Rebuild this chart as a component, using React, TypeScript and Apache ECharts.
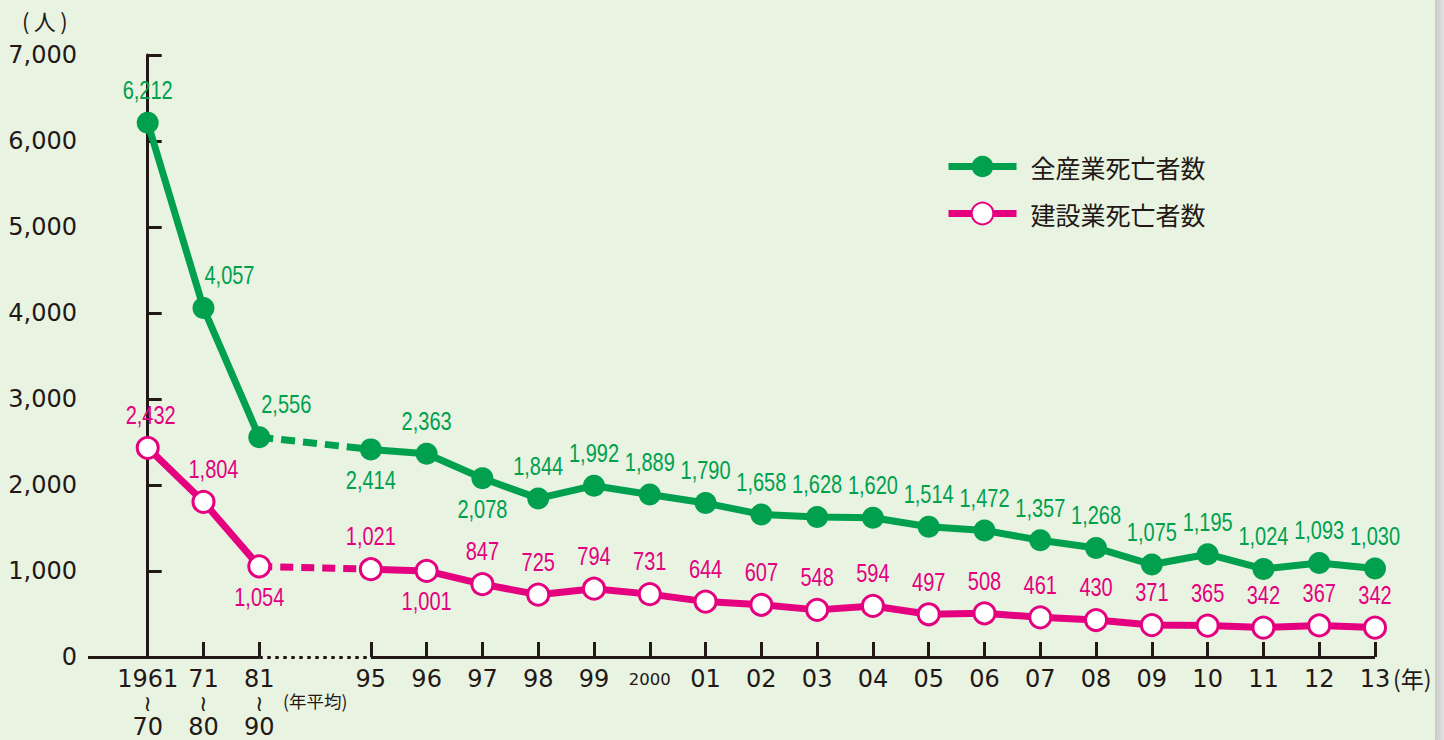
import React, { useEffect, useRef } from "react";
import * as echarts from "echarts";

// ---- data ----
const categories: string[] = [
  "1961\n≀\n70", "71\n≀\n80", "81\n≀\n90", "",
  "95", "96", "97", "98", "99", "2000",
  "01", "02", "03", "04", "05", "06", "07", "08", "09", "10", "11", "12", "13",
];
const allIndustry: (number | null)[] = [
  6212, 4057, 2556, null,
  2414, 2363, 2078, 1844, 1992, 1889,
  1790, 1658, 1628, 1620, 1514, 1472, 1357, 1268, 1075, 1195, 1024, 1093, 1030,
];
const construction: (number | null)[] = [
  2432, 1804, 1054, null,
  1021, 1001, 847, 725, 794, 731,
  644, 607, 548, 594, 497, 508, 461, 430, 371, 365, 342, 367, 342,
];
const seriesNames = ["全産業死亡者数", "建設業死亡者数"];
const yTicks = [0, 1000, 2000, 3000, 4000, 5000, 6000, 7000];

// label placement (style, not data)
const greenBelow = [4, 6];
const pinkBelow = [2, 5];
const greenShift: Record<number, number> = { 1: 26, 2: 27 };
const pinkShift: Record<number, number> = { 0: 3, 1: 10 };

const GREEN = "#00a04e";
const PINK = "#e4007f";
const INK = "#231815";
const BG = "#e8f3e1";
const NUM_FONT = "'Liberation Sans', Arial, sans-serif";
const AX_FONT = "'DejaVu Sans', sans-serif";
const CJK = "'Noto Sans CJK JP', 'Noto Sans', sans-serif";

const tickIdx = categories.map((c, i) => i).filter((i) => categories[i] !== "");
const firstGap = categories.indexOf("");

function buildData(vals: (number | null)[]) {
  return vals.map((v, i) => (v == null ? [i, "-"] : [i, v]));
}

function labelSeries(
  name: string,
  vals: (number | null)[],
  color: string,
  below: number[],
  shift: Record<number, number>
) {
  const data = vals
    .map((v, i) => (v == null ? null : [i, v]))
    .filter((d) => d !== null);
  return {
    name,
    type: "custom",
    silent: true,
    z: 6,
    encode: { x: 0, y: 1 },
    data,
    renderItem: (params: any, api: any) => {
      const i = api.value(0);
      const v = api.value(1);
      const pt = api.coord([i, v]);
      const isBelow = below.includes(i);
      return {
        type: "text",
        x: pt[0] + (shift[i] || 0),
        y: pt[1] + (isBelow ? 31 : -32),
        scaleX: 0.8,
        style: {
          text: Number(v).toLocaleString("en-US"),
          fill: color,
          fontFamily: NUM_FONT,
          fontSize: 25,
          align: "center",
          verticalAlign: "middle",
          textAlign: "center",
          textVerticalAlign: "middle",
        },
      };
    },
  };
}

export default function App() {
  const ref = useRef<HTMLDivElement>(null);
  useEffect(() => {
    if (!ref.current) return;
    const chart = echarts.init(ref.current, undefined, { renderer: "svg" });
    const xMin = -1.07;
    const xMax = categories.length - 1;
    chart.setOption({
      animation: false,
      backgroundColor: BG,
      grid: { left: 88, right: 69, top: 55, bottom: 83 },
      legend: {
        orient: "vertical",
        left: 945,
        top: 154,
        padding: 0,
        itemWidth: 68,
        itemHeight: 27,
        itemGap: 22,
        data: seriesNames,
        lineStyle: { width: 7 },
        textStyle: { fontSize: 25, color: INK, fontFamily: CJK, padding: [0, 0, 0, 9] },
      },
      xAxis: {
        type: "value",
        min: xMin,
        max: xMax,
        axisLine: { show: false },
        splitLine: { show: false },
        axisTick: {
          show: true,
          inside: true,
          length: 15,
          customValues: tickIdx,
          lineStyle: { color: INK, width: 3 },
        },
        axisLabel: {
          customValues: tickIdx,
          margin: 10,
          formatter: (v: number) => {
            const s = categories[Math.round(v)] || "";
            if (s === "2000") return "{s|2000}";
            return s
              .split("\n")
              .map((t) => (t === "≀" ? "{w|≀}" : "{n|" + t + "}"))
              .join("\n");
          },
          rich: {
            n: { fontFamily: AX_FONT, fontSize: 24, color: INK, lineHeight: 24 },
            s: { fontFamily: AX_FONT, fontSize: 16.5, color: INK, lineHeight: 24 },
            w: { fontFamily: AX_FONT, fontSize: 22, color: INK, lineHeight: 24 },
          },
        },
      },
      yAxis: {
        type: "value",
        min: 0,
        max: 7000,
        interval: 1000,
        splitLine: { show: false },
        axisLine: { show: true, lineStyle: { color: INK, width: 3 } },
        axisTick: { show: true, inside: true, length: 14, lineStyle: { color: INK, width: 3 } },
        axisLabel: {
          margin: 11,
          fontFamily: AX_FONT,
          fontSize: 24,
          color: INK,
          formatter: (v: number) => (yTicks.includes(v) ? v.toLocaleString("en-US") : ""),
        },
      },
      graphic: [
        { type: "text", left: 22, top: 9, style: { text: "(\u2009人\u2009)", fontFamily: CJK, fontSize: 22, fill: INK } },
        { type: "text", left: 283, top: 692, style: { text: "(年平均)", fontFamily: CJK, fontSize: 17.5, fill: INK } },
        { type: "text", left: 1393, top: 666, style: { text: "(年)", fontFamily: CJK, fontSize: 23, fill: INK } },
      ],
      series: [
        {
          name: "axis-line",
          type: "line",
          data: [],
          silent: true,
          markLine: {
            silent: true,
            symbol: ["none", "none"],
            label: { show: false },
            lineStyle: { color: INK, width: 3, type: "solid" },
            data: [
              [{ coord: [xMin, 0] }, { coord: [firstGap - 1, 0] }],
              [{ coord: [firstGap - 1, 0], lineStyle: { type: [3.5, 4.5], color: INK, width: 3 } }, { coord: [firstGap + 1, 0] }],
              [{ coord: [firstGap + 1, 0] }, { coord: [xMax, 0] }],
            ],
          },
        },
        {
          name: seriesNames[0] + "-gap",
          type: "line",
          data: [
            [firstGap - 1, allIndustry[firstGap - 1]],
            [firstGap + 1, allIndustry[firstGap + 1]],
          ],
          symbol: "none",
          silent: true,
          lineStyle: { color: GREEN, width: 7, type: [14, 8] },
        },
        {
          name: seriesNames[1] + "-gap",
          type: "line",
          data: [
            [firstGap - 1, construction[firstGap - 1]],
            [firstGap + 1, construction[firstGap + 1]],
          ],
          symbol: "none",
          silent: true,
          lineStyle: { color: PINK, width: 7, type: [13, 8] },
        },
        {
          name: seriesNames[0],
          type: "line",
          data: buildData(allIndustry),
          connectNulls: false,
          symbol: "circle",
          symbolSize: 22,
          lineStyle: { color: GREEN, width: 7 },
          itemStyle: { color: GREEN },
          z: 3,
        },
        {
          name: seriesNames[1],
          type: "line",
          data: buildData(construction),
          connectNulls: false,
          symbol: "circle",
          symbolSize: 21,
          lineStyle: { color: PINK, width: 7 },
          itemStyle: { color: "#ffffff", borderColor: PINK, borderWidth: 3 },
          z: 3,
        },
        labelSeries("green-labels", allIndustry, GREEN, greenBelow, greenShift),
        labelSeries("pink-labels", construction, PINK, pinkBelow, pinkShift),
      ],
    });
    return () => chart.dispose();
  }, []);
  return (
    <div style={{ position: "absolute", left: 0, top: 0, width: 1444, height: 740, background: BG }}>
      <div ref={ref} style={{ position: "absolute", left: 0, top: 0, width: 1444, height: 740 }} />
      <div
        style={{
          position: "absolute",
          left: 1435,
          top: 0,
          width: 9,
          height: 740,
          background: "linear-gradient(to right, #c9c9c9, #e2e2e2)",
        }}
      />
    </div>
  );
}
